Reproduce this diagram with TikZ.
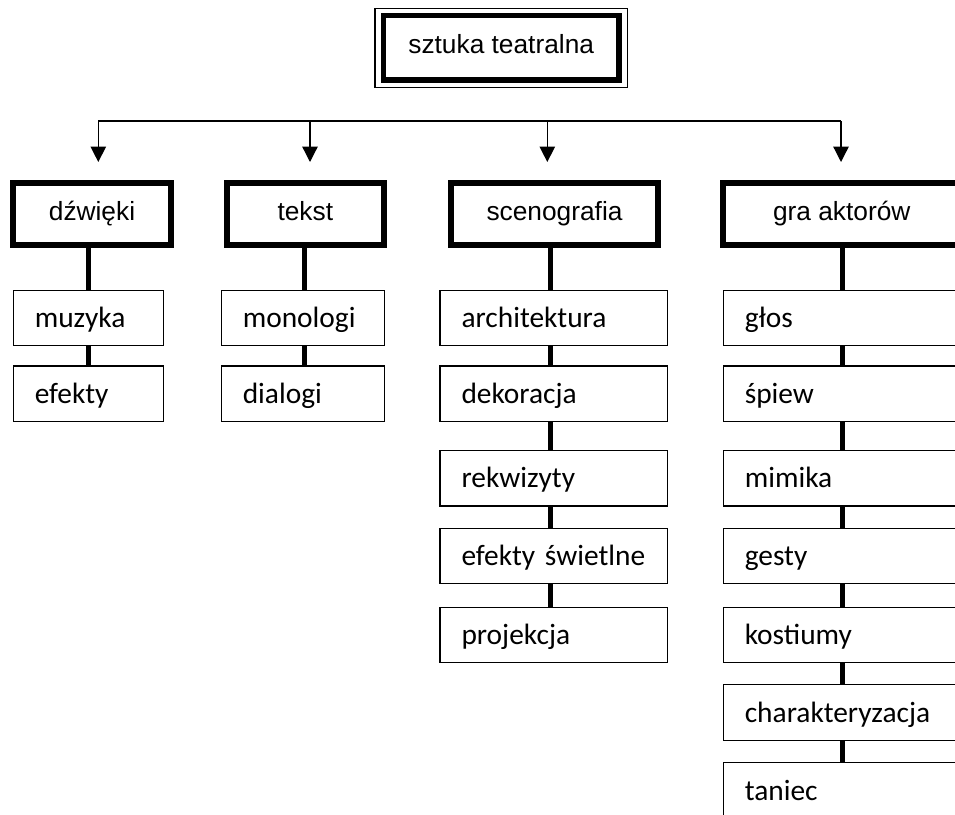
\documentclass[tikz,border=0pt]{standalone}
\usepackage{fontspec}
\newfontfamily\arialfont{Liberation Sans}
\newfontfamily\calibrifont{Carlito}
\usetikzlibrary{arrows.meta,positioning}
\tikzset{root/.style={draw, line width=5.3pt, minimum width=235.7pt, minimum height=64.3pt, inner sep=0pt, outer sep=0pt, text height=19pt, text depth=7pt, font=\arialfont\fontsize{26.3}{31}\selectfont},
  group/.style={draw, line width=6pt, minimum width=#1, minimum height=62pt, inner sep=0pt, outer sep=0pt, text height=19pt, text depth=7pt, font=\arialfont\fontsize{26.3}{31}\selectfont},
  item/.style={draw, line width=1.3pt, minimum height=55.5pt, inner xsep=21.5pt, inner ysep=0pt, outer sep=0pt, text width=#1, align=left, text height=25pt, text depth=6pt, font=\calibrifont\fontsize{29.4}{35}\selectfont},
  stem/.style={line width=5pt},
  feed/.style={line width=1.3pt, -{Triangle[length=15.5pt,width=15.5pt]}}}

\begin{document}
\begin{tikzpicture}[x=1pt,y=-1pt]
    \useasboundingbox (0,0) rectangle (955,814);
    \clip (0,0) rectangle (955,814);
    \node[root] (teatr) at (501.2,47.9) {sztuka teatralna};
    \draw[line width=1.3pt] ([shift={(-8.4,-7.4)}]teatr.north west) rectangle ([shift={(8.4,7.4)}]teatr.south east);
    \node[group=158pt] (dzwieki) at (92,214) {dźwięki};
    \node[group=156.7pt] (tekst) at (305.3,214) {tekst};
    \node[group=206.4pt] (sceno) at (554.5,214) {scenografia};
    \node[group=237.4pt] (gra) at (841.7,214) {gra aktorów};
    \node[item=107.1pt] (muzyka) at (88.35,318) {muzyka};
    \node[item=107.1pt] (efekty) at (88.35,393.7) {efekty};
    \node[item=120.4pt] (monologi) at (303,318) {monologi};
    \node[item=120.4pt] (dialogi) at (303,393.7) {dialogi};
    \node[item=184.7pt] (arch) at (553.85,318) {architektura};
    \node[item=184.7pt] (dekor) at (553.85,393.7) {dekoracja};
    \node[item=184.7pt] (rekw) at (553.85,478.3) {rekwizyty};
    \node[item=184.7pt] (swiatlo) at (553.85,556) {efekty świetlne};
    \node[item=184.7pt] (proj) at (553.85,635) {projekcja};
    \node[item=218.7pt] (glos) at (854.15,318) {głos};
    \node[item=218.7pt] (spiew) at (854.15,393.7) {śpiew};
    \node[item=218.7pt] (mimika) at (854.15,478.3) {mimika};
    \node[item=218.7pt] (gesty) at (854.15,556) {gesty};
    \node[item=218.7pt] (kostiumy) at (854.15,635) {kostiumy};
    \node[item=218.7pt] (charakt) at (854.15,712.5) {charakteryzacja};
    \node[item=218.7pt] (taniec) at (854.15,790.5) {taniec};
    \coordinate (c1) at (88.3,0);
    \coordinate (c2) at (304,0);
    \coordinate (c3) at (550,0);
    \coordinate (c4) at (842,0);
    \foreach \a/\b in {dzwieki/muzyka, muzyka/efekty} \draw[stem] (\a.south -| c1) -- (\b.north -| c1);
    \foreach \a/\b in {tekst/monologi, monologi/dialogi} \draw[stem] (\a.south -| c2) -- (\b.north -| c2);
    \foreach \a/\b in {sceno/arch, arch/dekor, dekor/rekw, rekw/swiatlo, swiatlo/proj} \draw[stem] (\a.south -| c3) -- (\b.north -| c3);
    \foreach \a/\b in {gra/glos, glos/spiew, spiew/mimika, mimika/gesty, gesty/kostiumy, kostiumy/charakt, charakt/taniec} \draw[stem] (\a.south -| c4) -- (\b.north -| c4);
    \coordinate (b1) at (98.3,121);
    \coordinate (b2) at (310,121);
    \coordinate (b3) at (547.3,121);
    \coordinate (b4) at (841,121);
    \coordinate (a1) at (98.3,162);
    \coordinate (a2) at (310,162);
    \coordinate (a3) at (547.3,162);
    \coordinate (a4) at (841,162);
    \draw[line width=1.3pt] (b1) -- (b4);
    \foreach \i in {1,...,4} \draw[feed] (b\i) -- (a\i);
\end{tikzpicture}
\end{document}
